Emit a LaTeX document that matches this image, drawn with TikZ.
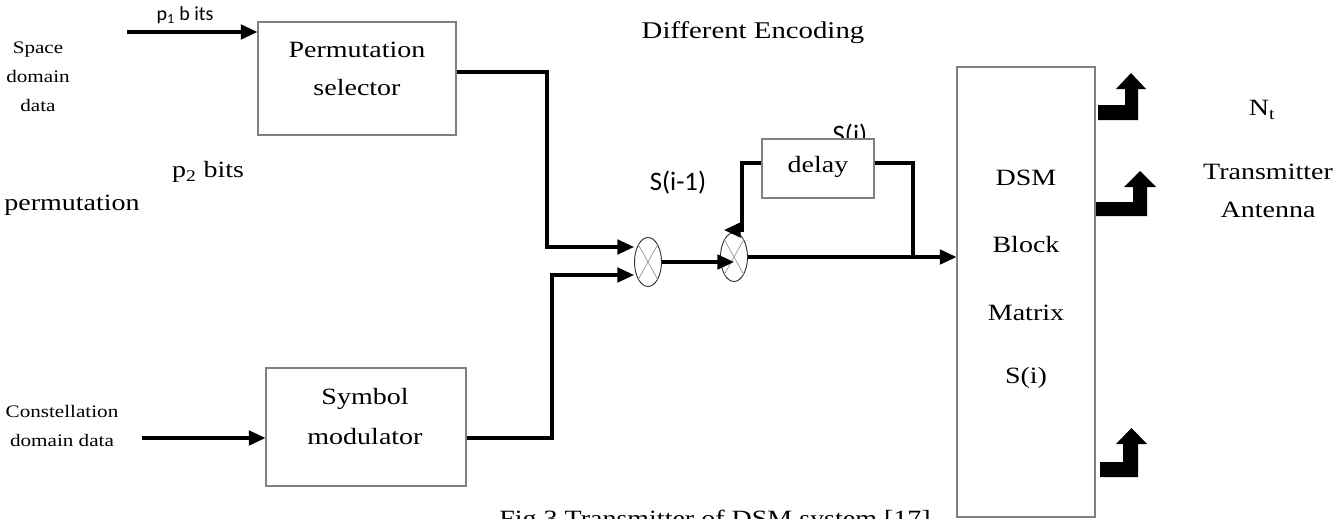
\documentclass[tikz,border=0pt]{standalone}
\usepackage{fontspec}
\setmainfont{Liberation Serif}[FakeStretch=1.2]
\newfontfamily\calib{Carlito}
\usetikzlibrary{arrows.meta,shapes.geometric,fit}
\begin{document}
\begin{tikzpicture}[x=0.75pt,y=-0.75pt,
  box/.style={draw=black!50,line width=0.8pt,fill=white,inner sep=0pt},
  big/.style={font=\fontsize{17.5}{28.5}\selectfont,align=center,inner sep=0pt},
  small/.style={font=\fontsize{13.2}{21.75}\selectfont,align=center,inner sep=0pt},
  sans/.style={font=\calib\fontsize{20}{24}\selectfont,inner sep=0pt},
  conn/.style={line width=2.3pt,-{Triangle[length=12.5pt,width=11pt]}},
  wire/.style={line width=2.3pt},
  mult/.style={ellipse,draw=black!80,line width=0.7pt,minimum width=20.25pt,minimum height=36.75pt,inner sep=0pt,fill=white},
  xline/.style={draw=black!45,line width=0.45pt}]
\useasboundingbox (0,0) rectangle (1342,518);
\clip (0,0) rectangle (1342,518);
\fill[white] (0,0) rectangle (1342,518);

% texts
\node[sans,font=\calib\fontsize{15}{18}\selectfont] (p1) at (185,15) {p\textsubscript{1} b its};
\node[small] (space) at (38,77) {Space\\domain\\data};
\node[big] (p2) at (208,172) {p\textsubscript{2} bits};
\node[big] (permw) at (72,205) {permutation};
\node[small] (const) at (62,426) {Constellation\\domain data};
\node[big,font=\fontsize{18}{24}\selectfont] (de) at (753,33) {Different Encoding};
\node[sans] (sim1) at (678,183) {S(i-1)};
\node[sans,anchor=base] (si) at (850,143) {S(i)};
\node[big] (nt) at (1262,110) {N\textsubscript{t}};
\node[big] (tx) at (1268,191) {Transmitter\\Antenna};
\node[big,anchor=base] (cap) at (715,526) {Fig.3 Transmitter of DSM system [17]};

% boxes
\node[box,fit={(258,22) (456,135)}] (perm) {};
\node[big] (permt) at (357,69) {Permutation\\selector};
\node[box,fit={(266,368) (466,486)}] (sym) {};
\node[big,font=\fontsize{17.5}{30}\selectfont] (symt) at (365,417) {Symbol\\modulator};
\node[box,fit={(762,139) (874,198)}] (delay) {};
\node[big] (delayt) at (818,167) {delay};
\node[box,fit={(957,67) (1095,517)}] (dsm) {};
\node[big] (dsmA) at (1026,178) {DSM};
\node[big] (dsmB) at (1026,245) {Block};
\node[big] (dsmC) at (1026,313) {Matrix};
\node[big] (dsmD) at (1026,378) {S(i)};

% multipliers
\node[mult] (mult1) at (648,262) {};
\node[mult] (mult2) at (734,257) {};
\draw[xline] (mult1.north west) -- (mult1.south east) (mult1.north east) -- (mult1.south west);
\draw[xline] (mult2.north west) -- (mult2.south east) (mult2.north east) -- (mult2.south west);

% connectors
\coordinate (p1s) at (127,32);
\draw[conn] (p1s) -- (p1s -| perm.west);
\coordinate (pa) at (547,72);
\coordinate (pb) at (547,247);
\draw[conn] (pa -| perm.east) -- (pa) -- (pb) -- (pb -| mult1.west);
\coordinate (cs) at (142,438);
\draw[conn] (cs) -- (cs -| sym.west);
\coordinate (sa) at (552,438);
\coordinate (sb) at (552,275);
\draw[conn] (sa -| sym.east) -- (sa) -- (sb) -- (sb -| mult1.west);
\draw[conn] (mult1.east) -- (mult1.east -| mult2.center);
\draw[conn] (mult2.east) -- (mult2.east -| dsm.west);
\coordinate (dr) at (913,163);
\draw[wire] (delay.east |- dr) -- (dr) -- (dr |- mult2.east);
\coordinate (dl) at (742,163);
\coordinate (dl2) at (742,230);
\coordinate (dl3) at (724,230);
\draw[conn] (delay.west |- dl) -- (dl) -- (dl2) -- (dl3);

% antenna arrows
\fill (1098,120) -- (1138,120) -- (1138,89) -- (1146,89) -- (1131,73) -- (1116,89) -- (1125,89) -- (1125,105) -- (1098,105) -- cycle;
\fill (1096,216) -- (1147,216) -- (1147,187) -- (1156,187) -- (1140,171) -- (1124,187) -- (1133,187) -- (1133,202) -- (1096,202) -- cycle;
\fill (1100,477) -- (1138,477) -- (1138,444) -- (1147,444) -- (1131.5,428) -- (1116,444) -- (1123,444) -- (1123,462) -- (1100,462) -- cycle;
\end{tikzpicture}
\end{document}
